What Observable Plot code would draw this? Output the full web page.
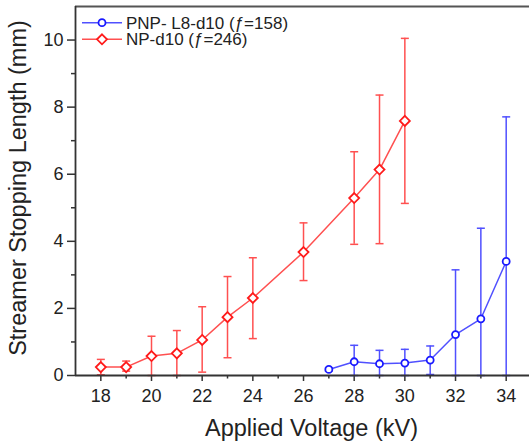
<!DOCTYPE html>
<html><head><meta charset="utf-8">
<script src="https://cdn.jsdelivr.net/npm/d3@7"></script>
<script src="https://cdn.jsdelivr.net/npm/@observablehq/plot@0.6"></script>
<style>
html,body{margin:0;padding:0;background:#fff;}
#chart{position:relative;width:529px;height:445px;overflow:hidden;font-family:"Liberation Sans",Arial,sans-serif;}
#legend{position:absolute;left:0;top:0;}
</style></head><body><div id="chart"></div>
<script>
// NP-d10 (f=246)
const voltsNP = [18, 19, 20, 21, 22, 23, 24, 26, 28, 29, 30];
const lenNP   = [0.25, 0.25, 0.58, 0.66, 1.06, 1.74, 2.31, 3.68, 5.29, 6.14, 7.59];
const lowNP   = [0.02, 0.13, 0.00, 0.00, 0.10, 0.53, 1.10, 2.83, 3.91, 3.93, 5.13];
const highNP  = [0.48, 0.43, 1.17, 1.34, 2.05, 2.95, 3.51, 4.55, 6.67, 8.36, 10.05];
// PNP- L8-d10 (f=158)
const voltsPNP = [27, 28, 29, 30, 31, 32, 33, 34];
const lenPNP   = [0.18, 0.41, 0.35, 0.37, 0.46, 1.22, 1.69, 3.40];
const lowPNP   = [0.14, 0.00, 0.00, 0.00, 0.03, 0.00, 0.00, 0.00];
const highPNP  = [0.22, 0.90, 0.75, 0.78, 0.88, 3.15, 4.39, 7.71];

const xMajor = [18, 20, 22, 24, 26, 28, 30, 32, 34];
const xMinor = [19, 21, 23, 25, 27, 29, 31, 33];
const yMajor = [0, 2, 4, 6, 8, 10];
const yMinor = [1, 3, 5, 7, 9];
const xDomain = [17, 34.92];
const yDomain = [0, 11];

const seriesNames = ["PNP- L8-d10 (ƒ=158)", "NP-d10 (ƒ=246)"];
const xLabel = "Applied Voltage (kV)";
const yLabel = "Streamer Stopping Length (mm)";

const RED_LINE = "#ff5050", RED_MARK = "#ff1a1a";
const BLUE_LINE = "#5050ff", BLUE_MARK = "#1a1aff";
const AX = "#333";

const np = voltsNP.map((v, i) => ({v, y: lenNP[i], lo: lowNP[i], hi: highNP[i]}));
const pnp = voltsPNP.map((v, i) => ({v, y: lenPNP[i], lo: lowPNP[i], hi: highPNP[i]}));

const capSymbol = {draw(ctx, size) { const r = Math.sqrt(size / Math.PI); ctx.moveTo(-r, 0); ctx.lineTo(r, 0); }};

function series(data, lineColor, markColor, symbol, r) {
  return [
    Plot.ruleX(data, {x: "v", y1: "lo", y2: "hi", stroke: lineColor, strokeWidth: 1.5}),
    Plot.dot(data, {x: "v", y: "hi", symbol: capSymbol, r: 4, stroke: lineColor, strokeWidth: 1.5}),
    Plot.dot(data, {x: "v", y: "lo", symbol: capSymbol, r: 4, stroke: lineColor, strokeWidth: 1.5}),
    Plot.line(data, {x: "v", y: "y", stroke: lineColor, strokeWidth: 1.5}),
    Plot.dot(data, {x: "v", y: "y", symbol, r, fill: "white", stroke: markColor, strokeWidth: 1.8})
  ];
}

const chart = Plot.plot({
  width: 529, height: 445,
  marginLeft: 75, marginRight: 0, marginTop: 6, marginBottom: 70,
  style: {fontFamily: '"Liberation Sans", Arial, sans-serif', fontSize: "18px", color: "#222", background: "white", overflow: "visible"},
  x: {domain: xDomain},
  y: {domain: yDomain},
  marks: [
    Plot.axisX({ticks: xMajor, tickSize: 6, tickPadding: 8, label: null, stroke: AX, strokeWidth: 1.5, fontSize: 18}),
    Plot.axisX({ticks: xMinor, tickSize: 3.5, text: null, label: null, stroke: AX, strokeWidth: 1.5}),
    Plot.axisY({ticks: yMajor, tickSize: 8, tickPadding: 4, label: null, stroke: AX, strokeWidth: 1.5, fontSize: 18}),
    Plot.axisY({ticks: yMinor, tickSize: 4, text: null, label: null, stroke: AX, strokeWidth: 1.5}),
    ...series(np, RED_LINE, RED_MARK, "diamond2", 4.5),
    ...series(pnp, BLUE_LINE, BLUE_MARK, "circle", 3.5),
    Plot.ruleY([yDomain[0]], {stroke: AX, strokeWidth: 1.8}),
    Plot.ruleY([yDomain[1]], {stroke: "#555", strokeWidth: 2}),
    Plot.ruleX([xDomain[0]], {stroke: AX, strokeWidth: 1.8}),
    Plot.text([xLabel], {frameAnchor: "bottom", lineAnchor: "middle", textAnchor: "middle", dy: 53, dx: 9, fontSize: 23.5, fill: "#222"}),
    Plot.text([yLabel], {frameAnchor: "left", lineAnchor: "middle", textAnchor: "middle", rotate: -90, dx: -57, dy: -3, fontSize: 23.5, fill: "#222"})
  ]
});

const container = document.getElementById("chart");
container.appendChild(chart);

// legend overlay
const leg = d3.select(container).append("svg").attr("id", "legend").attr("width", 320).attr("height", 50)
  .style("font-family", '"Liberation Sans", Arial, sans-serif');
const rows = [
  {name: seriesNames[0], line: BLUE_LINE, mark: BLUE_MARK, sym: "circle", y: 22.7},
  {name: seriesNames[1], line: RED_LINE, mark: RED_MARK, sym: "diamond", y: 39.3}
];
rows.forEach(r => {
  leg.append("line").attr("x1", 82).attr("x2", 122).attr("y1", r.y).attr("y2", r.y).attr("stroke", r.line).attr("stroke-width", 1.5);
  if (r.sym === "circle") {
    leg.append("circle").attr("cx", 102).attr("cy", r.y).attr("r", 3.5).attr("fill", "white").attr("stroke", r.mark).attr("stroke-width", 1.8);
  } else {
    leg.append("path").attr("d", `M102,${r.y - 5}L107,${r.y}L102,${r.y + 5}L97,${r.y}Z`).attr("fill", "white").attr("stroke", r.mark).attr("stroke-width", 1.8);
  }
  leg.append("text").attr("x", 126).attr("y", r.y + 6).attr("font-size", 17).attr("fill", "#222").text(r.name);
});
</script></body></html>
